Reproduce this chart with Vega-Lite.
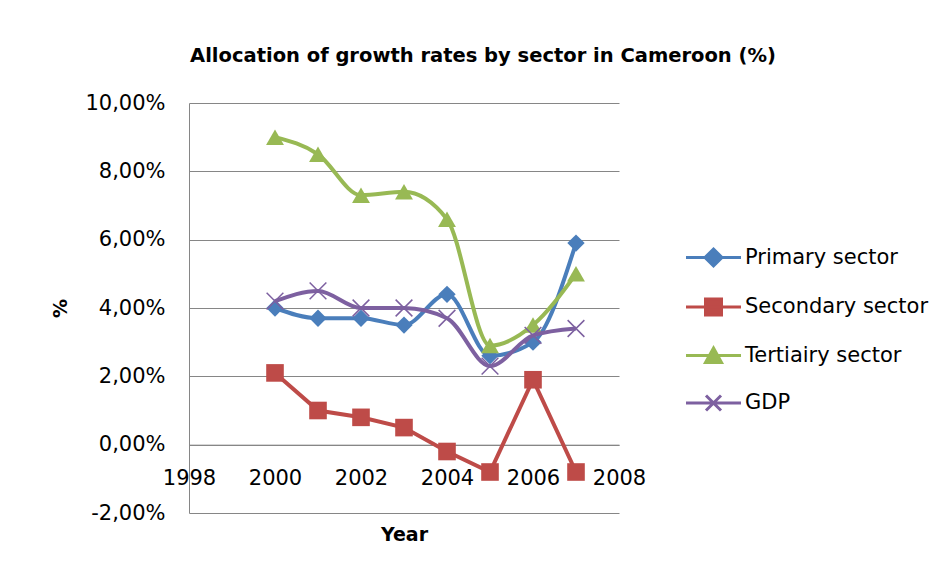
{
  "$schema": "https://vega.github.io/schema/vega-lite/v6.json",
  "autosize": "none",
  "width": 430,
  "height": 410,
  "padding": {"left": 189, "top": 103, "right": 324, "bottom": 63},
  "background": "white",
  "title": {
    "text": "Allocation of growth rates by sector in Cameroon (%)",
    "font": "DejaVu Sans",
    "fontSize": 19.5,
    "fontWeight": "bold",
    "color": "#000000",
    "anchor": "middle",
    "dx": 79,
    "offset": 11,
    "baseline": "alphabetic"
  },
  "data": {
    "values": [
      {"year": 2000, "series": "Primary sector", "value": 4.0},
      {"year": 2001, "series": "Primary sector", "value": 3.7},
      {"year": 2002, "series": "Primary sector", "value": 3.7},
      {"year": 2003, "series": "Primary sector", "value": 3.5},
      {"year": 2004, "series": "Primary sector", "value": 4.4},
      {"year": 2005, "series": "Primary sector", "value": 2.6},
      {"year": 2006, "series": "Primary sector", "value": 3.0},
      {"year": 2007, "series": "Primary sector", "value": 5.9},
      {"year": 2000, "series": "Secondary sector", "value": 2.1},
      {"year": 2001, "series": "Secondary sector", "value": 1.0},
      {"year": 2002, "series": "Secondary sector", "value": 0.8},
      {"year": 2003, "series": "Secondary sector", "value": 0.5},
      {"year": 2004, "series": "Secondary sector", "value": -0.2},
      {"year": 2005, "series": "Secondary sector", "value": -0.8},
      {"year": 2006, "series": "Secondary sector", "value": 1.9},
      {"year": 2007, "series": "Secondary sector", "value": -0.8},
      {"year": 2000, "series": "Tertiairy sector", "value": 9.0},
      {"year": 2001, "series": "Tertiairy sector", "value": 8.5},
      {"year": 2002, "series": "Tertiairy sector", "value": 7.3},
      {"year": 2003, "series": "Tertiairy sector", "value": 7.4},
      {"year": 2004, "series": "Tertiairy sector", "value": 6.6},
      {"year": 2005, "series": "Tertiairy sector", "value": 2.9},
      {"year": 2006, "series": "Tertiairy sector", "value": 3.5},
      {"year": 2007, "series": "Tertiairy sector", "value": 5.0},
      {"year": 2000, "series": "GDP", "value": 4.2},
      {"year": 2001, "series": "GDP", "value": 4.5},
      {"year": 2002, "series": "GDP", "value": 4.0},
      {"year": 2003, "series": "GDP", "value": 4.0},
      {"year": 2004, "series": "GDP", "value": 3.7},
      {"year": 2005, "series": "GDP", "value": 2.3},
      {"year": 2006, "series": "GDP", "value": 3.2},
      {"year": 2007, "series": "GDP", "value": 3.4}
    ]
  },
  "encoding": {
    "x": {
      "field": "year",
      "type": "quantitative",
      "scale": {"domain": [1998, 2008], "nice": false, "zero": false},
      "axis": {
        "title": "Year",
        "values": [1998, 2000, 2002, 2004, 2006, 2008],
        "format": "d",
        "offset": -68.33,
        "grid": false,
        "ticks": false,
        "domain": true,
        "domainColor": "#868686",
        "domainWidth": 1,
        "labelFlush": false,
        "labelPadding": 23,
        "labelFont": "DejaVu Sans",
        "labelFontSize": 21,
        "labelColor": "#000000",
        "labelOverlap": false,
        "titleFont": "DejaVu Sans",
        "titleFontSize": 19,
        "titleFontWeight": "bold",
        "titleColor": "#000000",
        "titleBaseline": "middle",
        "titleY": 90,
        "titleX": 215
      }
    },
    "y": {
      "field": "value",
      "type": "quantitative",
      "scale": {"domain": [-2, 10], "nice": false, "zero": false},
      "axis": {
        "title": "%",
        "values": [-2, 0, 2, 4, 6, 8, 10],
        "labelExpr": "replace(replace(format(datum.value/100, '.2%'), '.', ','), '\u2212', '-')",
        "grid": true,
        "gridColor": "#868686",
        "gridWidth": 1,
        "ticks": false,
        "domain": true,
        "domainColor": "#868686",
        "labelFlush": false,
        "labelPadding": 24,
        "labelFont": "DejaVu Sans",
        "labelFontSize": 21,
        "labelColor": "#000000",
        "titleFont": "DejaVu Sans",
        "titleFontSize": 19,
        "titleFontWeight": "bold",
        "titleColor": "#000000",
        "titleX": -129,
        "titleY": 205,
        "titleAlign": "center",
        "titleBaseline": "middle"
      }
    },
    "color": {
      "field": "series",
      "type": "nominal",
      "scale": {
        "domain": ["Primary sector", "Secondary sector", "Tertiairy sector", "GDP"],
        "range": ["#4A7EBB", "#BE4B48", "#98B954", "#7D60A0"]
      },
      "legend": {"title": null}
    }
  },
  "layer": [
    {
      "transform": [{"filter": "datum.series === 'Primary sector'"}],
      "mark": {"type": "line", "strokeWidth": 4, "interpolate": "monotone"}
    },
    {
      "transform": [{"filter": "datum.series === 'Primary sector'"}],
      "mark": {"type": "point", "shape": "diamond", "filled": true, "opacity": 1, "size": 300}
    },
    {
      "transform": [{"filter": "datum.series === 'Secondary sector'"}],
      "mark": {"type": "line", "strokeWidth": 4, "interpolate": "linear"}
    },
    {
      "transform": [{"filter": "datum.series === 'Secondary sector'"}],
      "mark": {"type": "point", "shape": "square", "filled": true, "opacity": 1, "size": 310}
    },
    {
      "transform": [{"filter": "datum.series === 'Tertiairy sector'"}],
      "mark": {"type": "line", "strokeWidth": 4, "interpolate": "monotone"}
    },
    {
      "transform": [{"filter": "datum.series === 'Tertiairy sector'"}],
      "mark": {"type": "point", "shape": "triangle-up", "filled": true, "opacity": 1, "size": 320}
    },
    {
      "transform": [{"filter": "datum.series === 'GDP'"}],
      "mark": {"type": "line", "strokeWidth": 4, "interpolate": "monotone"}
    },
    {
      "transform": [{"filter": "datum.series === 'GDP'"}],
      "mark": {"type": "point", "shape": "M-1,-1L1,1M-1,1L1,-1", "filled": false, "strokeWidth": 1.5, "opacity": 1, "size": 280}
    },
    {
      "mark": {"type": "point", "filled": true, "opacity": 0, "size": 400},
      "encoding": {
        "shape": {
          "field": "series",
          "type": "nominal",
          "scale": {
            "domain": ["Primary sector", "Secondary sector", "Tertiairy sector", "GDP"],
            "range": [
              "M-2.75,0H2.75M0,-0.85L0.85,0L0,0.85L-0.85,0Z",
              "M-2.75,0H2.75M-0.8,-0.8H0.8V0.8H-0.8Z",
              "M-2.75,0H2.75M0,-0.75L0.8,0.7H-0.8Z",
              "M-2.75,0H2.75M-0.75,-0.75L0.75,0.75M-0.75,0.75L0.75,-0.75"
            ]
          },
          "legend": {"title": null}
        },
        "stroke": {
          "field": "series",
          "type": "nominal",
          "scale": {
            "domain": ["Primary sector", "Secondary sector", "Tertiairy sector", "GDP"],
            "range": ["#4A7EBB", "#BE4B48", "#98B954", "#7D60A0"]
          },
          "legend": {"title": null}
        }
      }
    }
  ],
  "config": {
    "view": {"stroke": null},
    "legend": {
      "orient": "none",
      "legendX": 513,
      "legendY": 143,
      "symbolSize": 400,
      "symbolStrokeWidth": 3,
      "symbolOpacity": 1,
      "labelFont": "DejaVu Sans",
      "labelFontSize": 21,
      "labelColor": "#000000",
      "labelOffset": 20,
      "rowPadding": 20.5,
      "labelLimit": 300
    }
  }
}
